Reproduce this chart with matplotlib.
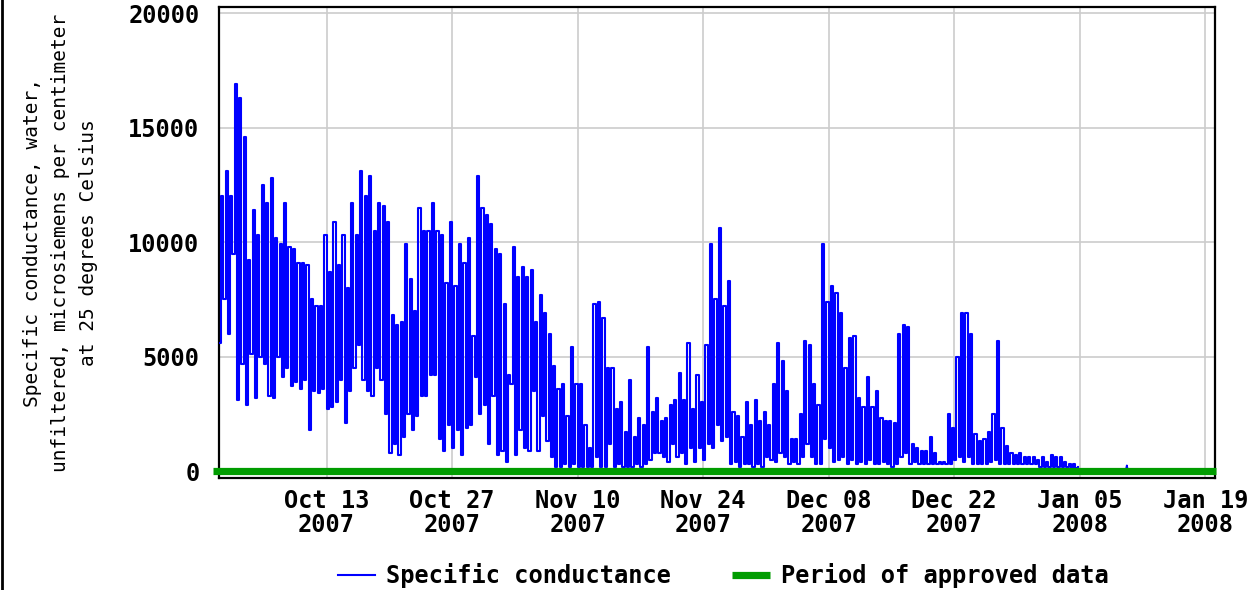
import matplotlib
matplotlib.use("Agg")
import matplotlib.pyplot as plt
import matplotlib.dates as mdates
from matplotlib.lines import Line2D
import numpy as np
import pandas as pd

# twice-daily tidal highs / lows (uS/cm), one pair per day from Oct 1 2007
HI = [12000, 13100, 12000, 16900, 16300, 14600, 9200, 11400, 10300, 12500,
      11700, 12800, 10200, 9900, 11700, 9800, 9700, 9100, 9100, 9000,
      7500, 7200, 7200, 10300, 8700, 10900, 9000, 10300, 8000, 11700,
      10300, 13100, 12000, 12900, 10500, 11700, 11600, 10900, 6800, 6400,
      6500, 9900, 8400, 7000, 11500, 10500, 10500, 11700, 10500, 10300,
      8200, 10900, 8100, 9900, 9100, 10200, 5900, 12900, 11500, 11200,
      10800, 9700, 9500, 7300, 4200, 9800, 8500, 8900, 8500, 8800,
      6500, 7700, 6900, 6000, 4600, 3600, 3800, 2400, 5400, 3800,
      3800, 2000, 1000, 7300, 7400, 6700, 4500, 4500, 2700, 3000,
      1700, 4000, 1500, 2300, 2000, 5400, 2600, 3200, 2200, 2300,
      2900, 3100, 4300, 3100, 5600, 2700, 4200, 3000, 5500, 9900,
      7500, 10600, 7200, 8300, 2600, 2400, 1500, 3000, 2000, 3100,
      2200, 2600, 2000, 3800, 5600, 4800, 3500, 1400, 1400, 2500,
      5700, 5500, 3800, 2900, 9900, 7400, 8100, 7800, 6900, 4500,
      5800, 5900, 3200, 2800, 4100, 2800, 3500, 2300, 2200, 2200,
      2100, 6000, 6400, 6300, 1200, 1000, 900, 900, 1500, 800,
      400, 400, 2500, 1900, 5000, 6900, 6900, 6000, 1600, 1300,
      1400, 1700, 2500, 5700, 1900, 1100, 800, 700, 800, 600,
      600, 600, 500, 600, 400, 700, 600, 600, 400, 300,
      300, 200]
LO = [5600, 7500, 6000, 9500, 3100, 4700, 2900, 5100, 3200, 5000,
      4700, 3300, 3200, 5000, 4100, 4500, 3700, 3900, 3600, 4000,
      1800, 3500, 3400, 3600, 2700, 2800, 3000, 4000, 2100, 3500,
      4500, 5500, 4000, 3500, 3300, 4500, 4000, 2500, 800, 1200,
      700, 1500, 2500, 1800, 2400, 3300, 3300, 4200, 4200, 1400,
      900, 2000, 1000, 1800, 700, 1900, 2000, 4100, 2500, 2900,
      1200, 3300, 700, 900, 400, 3800, 700, 1800, 1000, 900,
      3500, 900, 2400, 1300, 600, 200, 200, 300, 200, 300,
      200, 200, 200, 200, 600, 200, 200, 1200, 200, 300,
      200, 200, 200, 300, 200, 300, 500, 800, 800, 600,
      400, 1200, 600, 800, 300, 1000, 400, 1000, 500, 1200,
      1000, 2000, 1300, 1500, 300, 400, 200, 300, 300, 200,
      300, 200, 600, 500, 400, 800, 600, 300, 400, 300,
      600, 1200, 600, 300, 300, 1400, 1000, 400, 500, 600,
      300, 500, 300, 400, 300, 500, 300, 300, 400, 300,
      200, 300, 600, 800, 300, 400, 300, 300, 300, 300,
      300, 300, 300, 300, 500, 600, 400, 600, 300, 300,
      300, 300, 400, 500, 300, 300, 300, 300, 300, 300,
      300, 300, 300, 200, 200, 200, 200, 200, 200, 200,
      150, 150]
START = "2007-10-01 00:00"
BLIP_T = ["2008-01-10 04:00", "2008-01-10 06:00", "2008-01-10 08:00"]
BLIP_V = [100, 250, 100]
APPROVED = ["2007-09-30 08:00", "2008-01-20 06:00"]
TICKS = ["2007-10-13", "2007-10-27", "2007-11-10", "2007-11-24",
         "2007-12-08", "2007-12-22", "2008-01-05", "2008-01-19"]
XLIM = ["2007-10-01 00:00", "2008-01-20 02:00"]
YTICKS = [0, 5000, 10000, 15000, 20000]

BLUE = "#0000ff"; GREEN = "#009c00"; GRID = "#cccccc"
MONO = "DejaVu Sans Mono"
FS = 17

# interleave low/high, 6 h apart
vals = np.ravel(np.column_stack([LO, HI]))
t = pd.Timestamp(START) + pd.to_timedelta(np.arange(len(vals)) * 6, unit="h")

fig = plt.figure(figsize=(12.54, 5.90), dpi=100)
ax = fig.add_axes([219/1254, 1-478/590, (1215-219)/1254, (478-7)/590])

ax.plot(t, vals, color=BLUE, lw=1.5, zorder=3, drawstyle="steps-post",
        label="Specific conductance")
ax.plot(pd.to_datetime(BLIP_T), BLIP_V, color=BLUE, lw=1.3, zorder=3)
ax.plot(pd.to_datetime(APPROVED), [0, 0], color=GREEN, lw=5.2, zorder=4,
        clip_on=False, solid_capstyle="butt", label="Period of approved data")

ax.set_xlim(pd.to_datetime(XLIM))
ax.set_ylim(-300, 20270)
ax.set_xticks(pd.to_datetime(TICKS))
ax.xaxis.set_major_formatter(mdates.DateFormatter("%b %d\n%Y"))
ax.set_yticks(YTICKS)
ax.set_yticklabels([str(v) for v in YTICKS])
ax.grid(True, color=GRID, lw=1.2, zorder=0)
ax.set_axisbelow(True)
ax.tick_params(axis="x", length=0, pad=8)
ax.tick_params(axis="y", length=0, pad=14)
for lab in ax.get_xticklabels() + ax.get_yticklabels():
    lab.set_fontfamily(MONO); lab.set_fontweight("bold"); lab.set_fontsize(FS)
for lab in ax.get_xticklabels():
    lab.set_linespacing(1.0)
for s in ax.spines.values():
    s.set_color("black"); s.set_linewidth(1.6)

ax.set_ylabel("Specific conductance, water,\nunfiltered, microsiemens per centimeter\nat 25 degrees Celsius",
              fontfamily=MONO, fontsize=14, linespacing=1.6, labelpad=22)

fig.legend(loc="center", bbox_to_anchor=(723/1254, 1-576/590), ncol=2, frameon=False,
           prop={"family": MONO, "weight": "bold", "size": FS},
           handlelength=1.6, handletextpad=0.45, columnspacing=2.6)

fig.add_artist(Line2D([0.0012, 0.0012], [0, 1], transform=fig.transFigure, color="black", lw=2))

fig.savefig("out.png", dpi=100, facecolor="white")
